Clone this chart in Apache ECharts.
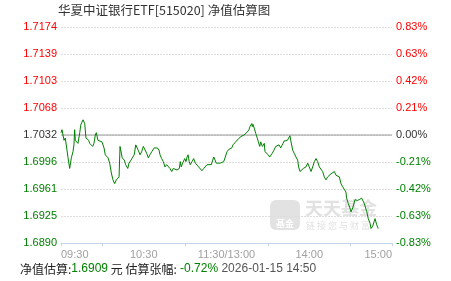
<!DOCTYPE html>
<html>
<head>
<meta charset="utf-8">
<script src="https://cdn.jsdelivr.net/npm/echarts@6/dist/echarts.min.js"></script>
<style>
html,body{margin:0;padding:0;background:#fff;}
#chart{width:451px;height:281px;}
</style>
</head>
<body>
<div id="chart"></div>
<script>
// ---- data ----
var titleText = '华夏中证银行ETF[515020] 净值估算图';
var leftLabels = ['1.7174','1.7139','1.7103','1.7068','1.7032','1.6996','1.6961','1.6925','1.6890'];
var rightLabels = ['0.83%','0.63%','0.42%','0.21%','0.00%','-0.21%','-0.42%','-0.63%','-0.83%'];
var navMin = 1.6890, navMax = 1.7174, navBase = 1.7032;
var xLabelMinutes = [0, 60, 120, 180, 240];
var xLabels = ['09:30', '10:30', '11:30/13:00', '14:00', '15:00'];
var xTickMinutes = [0, 30, 90, 150, 210, 240];
var navEstimate = '1.6909';
var changePct = '-0.72%';
var stamp = '2026-01-15 14:50';

// trading minutes since 09:30 (lunch break removed)
var mins = [
0,0.7,2.2,3.1,3.8,5.1,6.3,7.0,7.5,8.7,9.4,9.9,10.4,11.1,12.3,12.8,13.6,14.3,15.2,16.0,16.7,17.2,18.1,19.1,20.1,20.8,22.0,23.0,23.9,24.9,25.6,26.8,28.1,29.7,31.2,32.1,34.1,35.3,36.5,37.7,38.9,40.1,41.3,
42.1,42.8,43.5,44.4,45.9,46.9,48.4,49.3,50.8,51.7,53.1,54.2,54.9,56.0,57.3,58.5,59.7,60.9,62.1,63.3,64.5,65.8,67.6,68.7,69.8,71.1,71.8,73.0,74.2,75.4,76.6,77.8,79.0,80.3,81.4,
82.4,84.1,85.8,86.5,87.2,88.2,89.7,90.6,91.4,92.1,93.0,93.7,95.0,96.2,97.4,98.6,99.8,101.0,102.2,103.5,104.6,105.9,107.1,109.0,110.0,110.8,111.9,112.6,113.8,115.5,116.7,118.0,119.1,120.4,121.6,
123.8,124.7,126.2,127.1,128.6,129.6,130.5,131.5,132.7,133.9,135.1,136.3,137.0,137.8,138.3,138.7,139.2,139.7,140.1,141.2,142.3,143.1,144.1,144.8,146.0,146.7,147.4,147.9,148.9,150.3,151.3,152.0,153.2,154.4,155.7,156.8,158.1,159.3,160.0,161.0,161.7,162.9,164.1,165.3,
166.0,166.8,168.0,169.1,170.4,171.6,172.3,173.3,174.7,175.7,176.4,177.6,178.9,180.0,181.3,182.5,183.7,184.9,186.1,187.3,188.5,189.7,190.9,192.1,193.4,194.5,195.8,197.0,198.2,199.4,200.6,201.8,203.0,204.2,205.4,206.6,
207.1,208.3,209.5,210.3,211.5,212.4,213.2,213.9,214.8,216.3,218.0,219.2,219.9,221.7,222.8,224.1,224.8,226.0,227.0,227.7,228.9,230
];
var navs = [
1.7035,1.7039,1.7025,1.7028,1.7019,1.7002,1.6988,1.6986,1.7002,1.7010,1.7019,1.7039,1.7025,1.7025,1.7021,1.7019,1.7035,1.7045,1.7049,1.7052,1.7054,1.7047,1.7028,1.7030,1.7025,1.7021,1.7019,1.7017,1.7021,1.7032,1.7035,1.7025,1.7023,1.7023,1.7015,1.7006,1.7002,1.6995,1.6982,1.6973,1.6968,1.6973,1.6975,
1.6977,1.7017,1.7015,1.7002,1.6999,1.6993,1.6988,1.6995,1.6999,1.7002,1.7006,1.7019,1.7021,1.7012,1.7006,1.7010,1.7017,1.7017,1.7008,1.7002,1.7006,1.7010,1.7015,1.7017,1.7015,1.7012,1.7006,1.7001,1.6997,1.6990,1.6993,1.6993,1.6988,1.6984,1.6988,
1.6987,1.6986,1.6988,1.6997,1.6990,1.6995,1.7001,1.6997,1.7003,1.7006,1.6997,1.6993,1.6997,1.7001,1.6995,1.6997,1.6990,1.6988,1.6985,1.6988,1.6990,1.6993,1.6993,1.6993,1.6999,1.7003,1.7001,1.6995,1.6997,1.6995,1.6997,1.6997,1.7003,1.7010,1.7013,
1.7015,1.7019,1.7022,1.7024,1.7027,1.7028,1.7030,1.7028,1.7032,1.7034,1.7036,1.7039,1.7043,1.7045,1.7047,1.7043,1.7046,1.7047,1.7041,1.7034,1.7028,1.7023,1.7017,1.7023,1.7017,1.7015,1.7021,1.7010,1.7008,1.7006,1.7003,1.7002,1.7008,1.7012,1.7017,1.7015,1.7019,1.7015,1.7017,1.7021,1.7024,1.7022,1.7025,1.7027,
1.7031,1.7023,1.7012,1.7008,1.7003,1.6999,1.6990,1.6984,1.6984,1.6988,1.6987,1.6990,1.6995,1.6990,1.6984,1.6990,1.6997,1.7001,1.6997,1.6990,1.6990,1.6984,1.6977,1.6973,1.6977,1.6979,1.6981,1.6979,1.6984,1.6979,1.6980,1.6977,1.6968,1.6964,1.6962,1.6957,
1.6949,1.6942,1.6936,1.6931,1.6936,1.6938,1.6947,1.6949,1.6946,1.6947,1.6949,1.6951,1.6942,1.6931,1.6922,1.6916,1.6909,1.6912,1.6918,1.6922,1.6914,1.6909
];

var seriesData = mins.map(function (m, i) { return [m, navs[i]]; });
var baseLineData = [[0, navBase], [240, navBase]];

function labelColor(v) {
  if (v > 4) return '#ff0000';
  if (v < 4) return '#008000';
  return '#333333';
}
var numFont = '"Liberation Sans", Arial, sans-serif';
var cjkFont = '"Noto Sans CJK SC", sans-serif';

var chart = echarts.init(document.getElementById('chart'), null, {renderer: 'canvas'});
chart.setOption({
  animation: false,
  backgroundColor: '#ffffff',
  title: {
    text: titleText, left: 58, top: 4, padding: 0,
    textStyle: {fontSize: 12.5, fontWeight: 'normal', color: '#333', fontFamily: cjkFont}
  },
  grid: {left: 61, right: 59, top: 27, bottom: 38, containLabel: false},
  xAxis: {
    type: 'value', min: 0, max: 240,
    axisLine: {show: true, lineStyle: {color: '#c4d4e4', width: 1}},
    axisTick: {show: true, customValues: xTickMinutes, length: 3, lineStyle: {color: '#c4d4e4'}},
    axisLabel: {
      customValues: xLabelMinutes,
      formatter: function (v) { var i = xLabelMinutes.indexOf(v); return i >= 0 ? xLabels[i] : ''; },
      color: '#a0a0a0', fontSize: 11, fontFamily: numFont, margin: 6,
      alignMinLabel: 'left', alignMaxLabel: 'right'
    },
    splitLine: {show: false}
  },
  yAxis: [
    {
      type: 'value', position: 'left', min: 0, max: 8, interval: 1,
      axisLine: {show: false}, axisTick: {show: false},
      axisLabel: {
        formatter: function (v) { return leftLabels[8 - v]; },
        color: function (v) { return labelColor(v); },
        fontSize: 11, fontFamily: numFont, margin: 4
      },
      splitLine: {show: true, lineStyle: {color: '#dddddd', type: [2, 1], width: 1}}
    },
    {
      type: 'value', position: 'right', min: 0, max: 8, interval: 1,
      axisLine: {show: false}, axisTick: {show: false},
      axisLabel: {
        formatter: function (v) { return rightLabels[8 - v]; },
        color: function (v) { return labelColor(v); },
        fontSize: 11, fontFamily: numFont, margin: 4
      },
      splitLine: {show: false}
    },
    {
      type: 'value', min: navMin, max: navMax, show: false
    }
  ],
  graphic: [
    {type: 'rect', left: 270, top: 200, z: -10, shape: {width: 30, height: 30, r: 6}, style: {fill: '#e2e2e2'}},
    {type: 'text', left: 276, top: 219, z: -9, style: {text: '基金', fill: '#ffffff', font: 'bold 9px ' + cjkFont}},
    {type: 'text', left: 305, top: 199, z: -10, style: {text: '天天基金', fill: '#e2e2e2', font: 'bold 18px ' + cjkFont}},
    {type: 'text', left: 306, top: 221, z: -10, style: {text: '链 接 您 与 财 富', fill: '#e2e2e2', font: '9px ' + cjkFont}},
    {
      type: 'text', left: 20, top: 263,
      style: {
        text: '{a|净值估算:}{b|' + navEstimate + '}{a| 元 估算张幅:}{b| ' + changePct + '}{c| ' + stamp + '}',
        rich: {
          a: {fill: '#222', fontSize: 12, fontFamily: cjkFont},
          b: {fill: '#008000', fontSize: 12, fontFamily: numFont},
          c: {fill: '#555', fontSize: 12, fontFamily: numFont}
        }
      }
    }
  ],
  series: [
    {
      type: 'line', yAxisIndex: 2, data: baseLineData,
      showSymbol: false, symbol: 'none', silent: true, z: 3,
      lineStyle: {color: '#999999', width: 1}
    },
    {
      type: 'line', yAxisIndex: 2, data: seriesData,
      showSymbol: false, symbol: 'none', smooth: false,
      lineStyle: {color: '#008000', width: 1},
      z: 5
    }
  ]
});
</script>
</body>
</html>
